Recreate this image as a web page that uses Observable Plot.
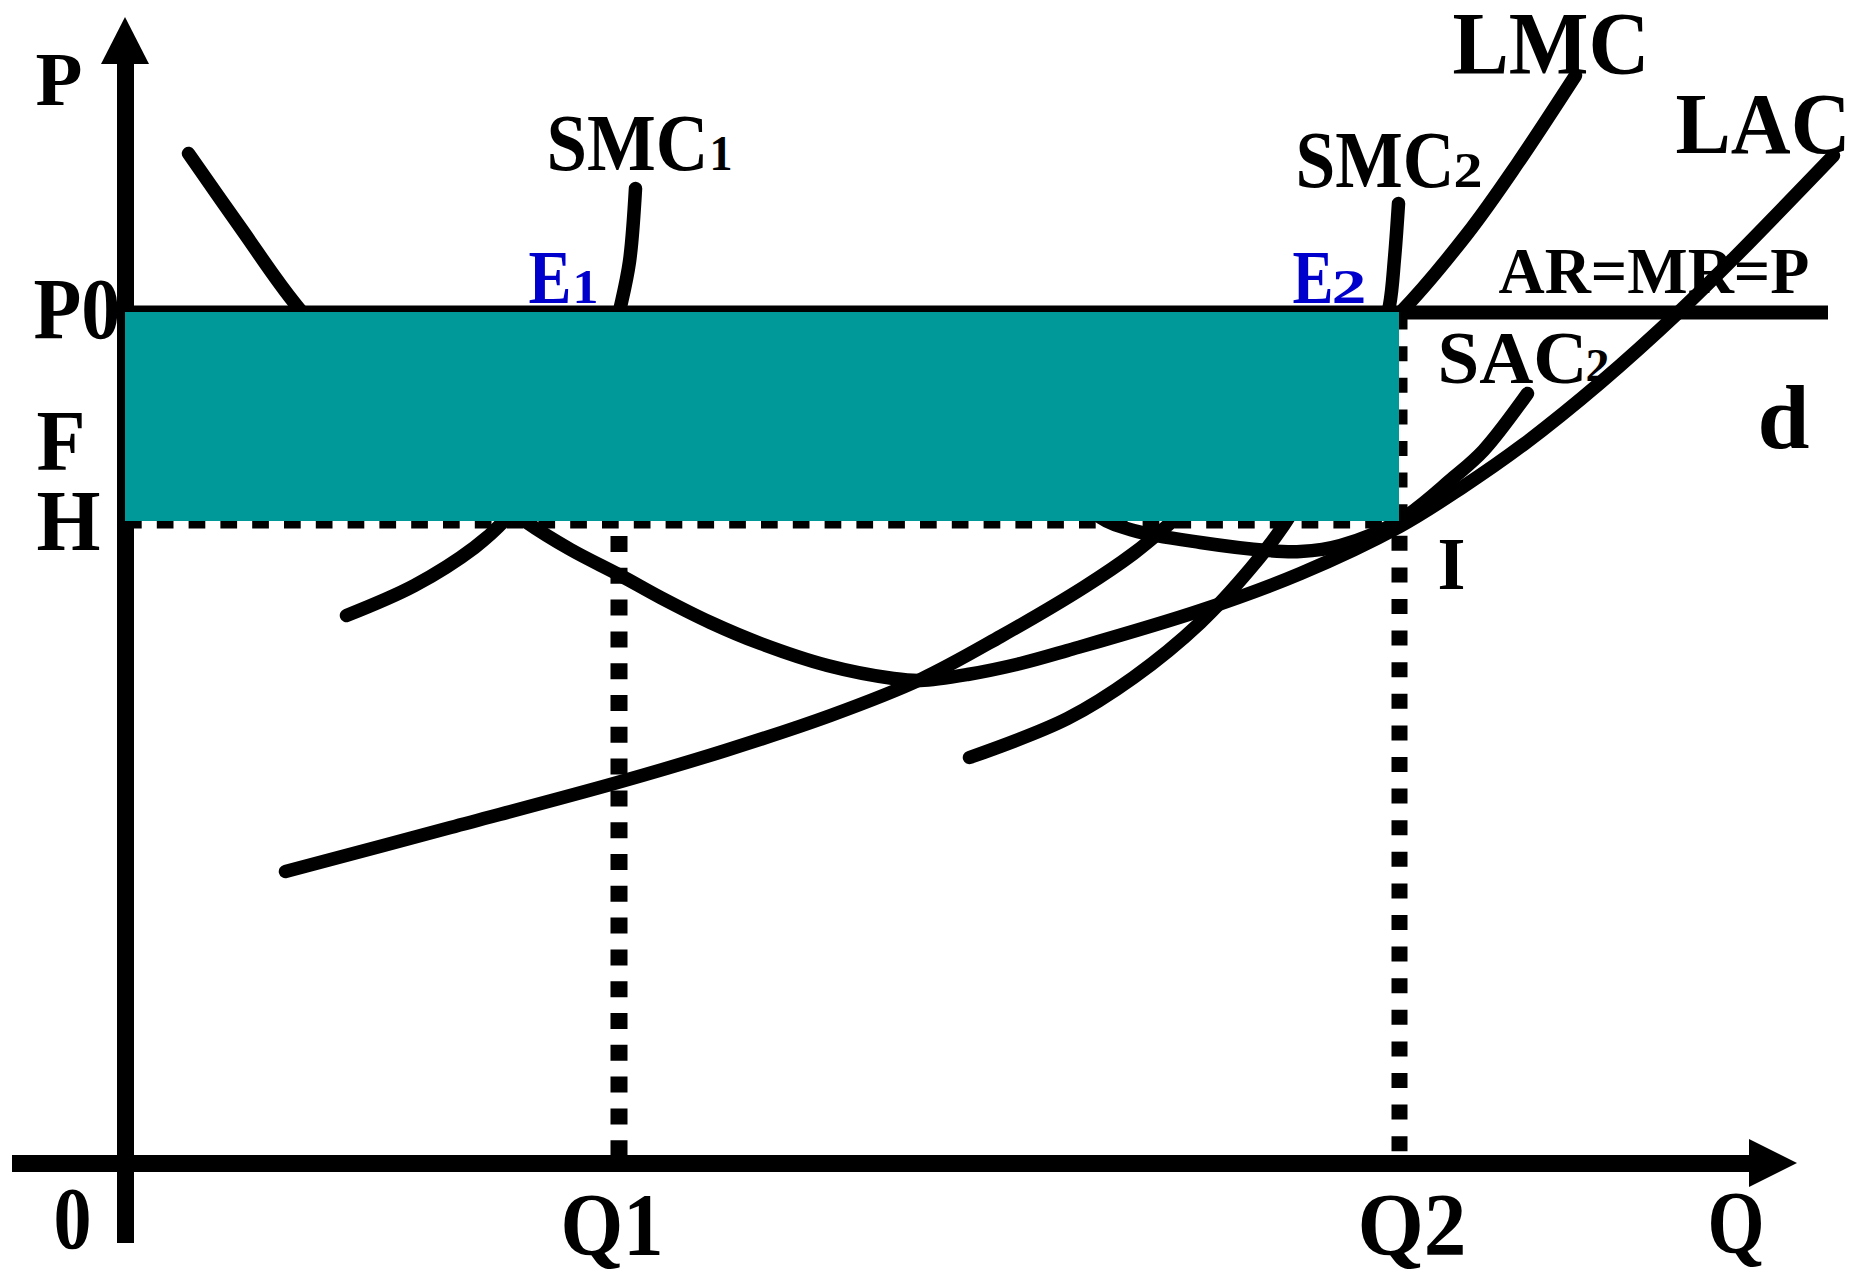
<!DOCTYPE html>
<html><head><meta charset="utf-8">
<script src="https://cdn.jsdelivr.net/npm/d3@7"></script>
<script src="https://cdn.jsdelivr.net/npm/@observablehq/plot@0.6"></script>
<style>html,body{margin:0;padding:0;background:#fff;} svg{display:block;}</style>
</head><body><div id="chart"></div>
<script>
// ---- data (chart units: Q along x, P along y, origin at the axes crossing) ----
const Q1 = 4.935, Q2 = 12.74;          // quantities
const P0 = 8.51, H = 6.42;             // price level and cost level
const curveNames = ["LAC", "LMC", "SMC1", "SMC2", "SAC2"];
const LAC  = [[0.63,10.10],[1.17,9.33],[1.71,8.58],[2.85,7.32],[4.00,6.42],[4.45,6.14],[4.95,5.88],[5.35,5.66],[5.85,5.41],[6.35,5.20],[7.02,4.98],[7.68,4.85],[7.95,4.83],[8.42,4.89],[8.95,5.00],[9.42,5.13],[10.75,5.53],[11.75,5.90],[12.74,6.37],[13.35,6.75],[13.98,7.19],[14.75,7.81],[15.55,8.53],[16.08,9.05],[17.08,10.08]];
const LMC  = [[1.60,2.92],[3.25,3.36],[4.92,3.81],[6.00,4.13],[7.05,4.48],[7.95,4.84],[8.75,5.27],[9.58,5.76],[10.08,6.10],[10.42,6.38],[11.55,7.43],[12.74,8.50],[13.42,9.30],[13.92,10.00],[14.50,10.88]];
const SMC1 = [[2.21,5.48],[2.89,5.78],[3.49,6.16],[3.79,6.43],[4.20,6.95],[4.60,7.63],[4.85,8.18],[4.95,8.57],[5.04,9.02],[5.10,9.75]];
const SMC2 = [[8.44,4.06],[9.42,4.45],[10.08,4.86],[10.75,5.41],[11.25,5.95],[11.58,6.38],[12.05,7.18],[12.35,7.73],[12.53,8.18],[12.64,8.58],[12.69,9.05],[12.73,9.60]];
const SAC2 = [[9.50,6.73],[9.75,6.46],[10.08,6.33],[10.75,6.21],[11.42,6.13],[11.75,6.12],[12.15,6.18],[12.74,6.43],[13.28,6.86],[13.58,7.13],[14.02,7.70]];

const labelText = ["P","P0","F","H","0","Q1","Q2","Q","SMC","SMC","LMC","LAC","AR=MR=P","SAC","d","I"];
const labelQ    = [-0.90,-0.92,-0.89,-0.89,-0.72,4.35,12.32,15.82,4.21,11.70,13.27,15.50,13.73,13.12,16.32,13.12];
const labelP    = [10.59,8.26,6.94,6.14,-0.84,-0.90,-0.90,-0.88,9.94,9.77,10.91,10.11,8.71,7.81,7.16,5.75];
const pointText = ["E","E"];
const pointQ    = [4.03,11.67];
const pointP    = [8.61,8.61];
const subText   = ["1","2","1","2","2"];
const subQ      = [5.84,13.28,4.47,12.06,14.60];
const subP      = [9.94,9.77,8.61,8.61,7.83];

// ---- styles ----
const labelSize  = [77,86,86,86,88,88,88,88,80,80,88,86,66,75,90,73];
const labelWidth = [47,87,49,64,38,103,109,57,162,159,197,175,311,150,52,28];
const pointWidth = [43,41];
const subSize    = [50,50,49,49,47];
const subWidth   = [23,29,26,35,24];
const subColor   = ["black","black","#0000cc","#0000cc","black"];
const blue = "#0000cc";
const font = "'Liberation Serif', 'Times New Roman', serif";

const curveRows = [LAC, LMC, SMC1, SMC2, SAC2].flatMap((pts, k) =>
  pts.map(([q, p]) => ({name: curveNames[k], q, p})));

const textMarks = [], targetWidths = [];
function addText(t, q, p, size, color, w) {
  textMarks.push(Plot.text([{t, q, p}], {x: "q", y: "p", text: "t", textAnchor: "start", lineAnchor: "bottom",
    fontSize: size, fontWeight: "bold", fontFamily: font, fill: color}));
  targetWidths.push(w);
}
labelText.forEach((t, i) => addText(t, labelQ[i], labelP[i], labelSize[i], "black", labelWidth[i]));
pointText.forEach((t, i) => addText(t, pointQ[i], pointP[i], 77, blue, pointWidth[i]));
subText.forEach((t, i) => addText(t, subQ[i], subP[i], subSize[i], subColor[i], subWidth[i]));

const chart = Plot.plot({
  width: 1854, height: 1272, margin: 0,
  x: {domain: [-1.25, 17.29], axis: null},
  y: {domain: [-1.09, 11.63], axis: null},
  marks: [
    // axes
    Plot.ruleX([0], {y1: -0.80, y2: 11.00, stroke: "black", strokeWidth: 17}),
    Plot.ruleY([0], {x1: -1.13, x2: 16.25, stroke: "black", strokeWidth: 17}),
    Plot.areaX([{p: 10.99, a: -0.24, b: 0.24}, {p: 11.46, a: 0, b: 0}], {y: "p", x1: "a", x2: "b", fill: "black"}),
    Plot.areaY([{q: 16.24, a: -0.24, b: 0.24}, {q: 16.72, a: 0, b: 0}], {x: "q", y1: "a", y2: "b", fill: "black"}),
    // demand line d : AR = MR = P
    Plot.ruleY([P0], {x1: 0, x2: 17.03, stroke: "black", strokeWidth: 14}),
    // dotted guides
    Plot.ruleY([H], {x1: 0, x2: Q2, stroke: "black", strokeWidth: 14, strokeDasharray: "16.7,15.1"}),
    Plot.ruleX([Q1], {y1: H, y2: 0, stroke: "black", strokeWidth: 17, strokeDasharray: "16,15.8", strokeDashoffset: 16.8}),
    Plot.ruleX([Q2], {y1: P0, y2: 0, stroke: "black", strokeWidth: 16, strokeDasharray: "15,16.6", strokeDashoffset: 29}),
    // cost curves
    Plot.line(curveRows, {x: "q", y: "p", z: "name", curve: "catmull-rom", stroke: "black", strokeWidth: 13.5}),
    // profit rectangle
    Plot.rect([{a: 0, b: Q2, c: H, d: P0}], {x1: "a", x2: "b", y1: "c", y2: "d", fill: "#009999"}),
    ...textMarks
  ]
});
document.getElementById("chart").appendChild(chart);
chart.querySelectorAll("text").forEach((t, i) => {
  const tr = t.getAttribute("transform");
  const w = t.getBBox().width;
  if (tr && w > 0 && targetWidths[i]) t.setAttribute("transform", tr + ` scale(${(targetWidths[i] / w).toFixed(3)},1)`);
});
</script>
</body></html>
